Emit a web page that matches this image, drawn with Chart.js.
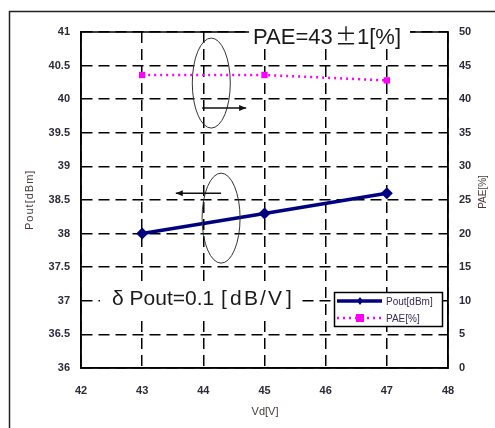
<!DOCTYPE html>
<html>
<head>
<meta charset="utf-8">
<script src="https://cdn.jsdelivr.net/npm/chart.js@4.4.1/dist/chart.umd.min.js"></script>
<style>
  html, body { margin: 0; padding: 0; background: #fff; }
  canvas { display: block; }
</style>
</head>
<body>
<canvas id="chart" width="495" height="428"></canvas>
<script>
// data
const vd = [43, 45, 47];
const pout = [38.0, 38.3, 38.6];
const pae = [43.6, 43.6, 42.8];

const xTicks = [42, 43, 44, 45, 46, 47, 48];
const poutTicks = [36, 36.5, 37, 37.5, 38, 38.5, 39, 39.5, 40, 40.5, 41];
const paeTicks = [0, 5, 10, 15, 20, 25, 30, 35, 40, 45, 50];

const FONT = '"Liberation Sans", Arial, sans-serif';
const CJK = '"Noto Sans CJK JP", sans-serif';
const TXT = '#2b2b3a';

function arrow(ctx, x1, y1, x2, y2) {
    ctx.beginPath();
    ctx.moveTo(x1, y1);
    ctx.lineTo(x2, y2);
    ctx.stroke();
    const dir = Math.sign(x2 - x1);
    ctx.beginPath();
    ctx.moveTo(x2, y2);
    ctx.lineTo(x2 - dir * 7, y2 - 3);
    ctx.lineTo(x2 - dir * 7, y2 + 3);
    ctx.closePath();
    ctx.fill();
}

// draw text char by char with extra spacing, returns end x
function spaced(ctx, str, x, y, gap) {
    for (const ch of str) {
        ctx.fillText(ch, x, y);
        x += ctx.measureText(ch).width + gap;
    }
    return x;
}

const extras = {
    id: 'extras',
    afterDraw(chart) {
        const ctx = chart.ctx;
        const a = chart.chartArea;
        const x = chart.scales.x, y = chart.scales.y;
        ctx.save();

        // outer frame
        ctx.strokeStyle = '#222';
        ctx.lineWidth = 1.5;
        ctx.strokeRect(9.5, 11.5, 500, 430);

        // plot frame
        ctx.strokeStyle = '#000';
        ctx.strokeRect(a.left, a.top, a.right - a.left, a.bottom - a.top);

        // ellipses
        ctx.lineWidth = 1;
        ctx.strokeStyle = '#333';
        ctx.beginPath();
        ctx.ellipse(x.getPixelForValue(44.13), y.getPixelForValue(40.24), 19, 45, 0, 0, Math.PI * 2);
        ctx.stroke();
        ctx.beginPath();
        ctx.ellipse(x.getPixelForValue(44.29), y.getPixelForValue(38.23), 19, 45, 0, 0, Math.PI * 2);
        ctx.stroke();

        // arrows
        ctx.lineWidth = 1.5;
        ctx.strokeStyle = '#111';
        ctx.fillStyle = '#111';
        arrow(ctx, x.getPixelForValue(43.98), y.getPixelForValue(39.87), x.getPixelForValue(44.7), y.getPixelForValue(39.87));
        arrow(ctx, x.getPixelForValue(44.29), y.getPixelForValue(38.6), x.getPixelForValue(43.55), y.getPixelForValue(38.6));

        // annotation texts
        ctx.fillStyle = '#fff';
        ctx.fillRect(249, 16, 161, 32);
        ctx.fillRect(100, 284, 197, 33);
        ctx.fillStyle = '#1a1a1a';
        ctx.textAlign = 'left';
        ctx.textBaseline = 'alphabetic';
        ctx.font = '22px ' + FONT;
        ctx.fillText('PAE=43', 253, 44);
        ctx.font = '22px ' + CJK;
        ctx.fillText('±', 335, 44);
        ctx.font = '22px ' + FONT;
        ctx.fillText('1[%]', 357, 44);
        ctx.font = '21px ' + FONT;
        ctx.fillText('δ Pout=0.1', 112, 305);
        ctx.fillText('[', 221, 305);
        spaced(ctx, 'dB/V', 230, 305, 2.2);
        ctx.fillText(']', 286, 305);

        // legend
        ctx.fillStyle = '#fff';
        ctx.fillRect(334, 292, 109, 35);
        ctx.strokeStyle = '#000';
        ctx.lineWidth = 1.5;
        ctx.strokeRect(334.5, 292.5, 108, 34);
        const ds = chart.data.datasets;
        ctx.lineWidth = 3.5;
        ctx.strokeStyle = ds[0].borderColor;
        ctx.beginPath(); ctx.moveTo(337, 301); ctx.lineTo(382, 301); ctx.stroke();
        ctx.fillStyle = ds[0].borderColor;
        ctx.beginPath();
        ctx.moveTo(360, 297); ctx.lineTo(363, 301); ctx.lineTo(360, 305); ctx.lineTo(357, 301);
        ctx.closePath(); ctx.fill();
        ctx.lineWidth = 2.5;
        ctx.strokeStyle = ds[1].borderColor;
        ctx.setLineDash([2, 4]);
        ctx.beginPath(); ctx.moveTo(337, 318); ctx.lineTo(382, 318); ctx.stroke();
        ctx.setLineDash([]);
        ctx.fillStyle = ds[1].borderColor;
        ctx.fillRect(356, 314, 8, 8);
        ctx.fillStyle = '#3a2a5a';
        ctx.font = '10px ' + FONT;
        ctx.textBaseline = 'middle';
        ctx.fillText(ds[0].label, 386, 302);
        ctx.fillText(ds[1].label, 386, 319);

        // axis titles
        ctx.fillStyle = '#4a3a3a';
        ctx.font = '11px ' + FONT;
        ctx.textAlign = 'center';
        ctx.fillText('Vd[V]', 265, 412);
        ctx.save();
        ctx.translate(30, 200);
        ctx.rotate(-Math.PI / 2);
        ctx.textAlign = 'left';
        spaced(ctx, 'Pout[dBm]', -30, 0, 1);
        ctx.restore();
        ctx.save();
        ctx.translate(483, 192);
        ctx.rotate(-Math.PI / 2);
        ctx.font = '10px ' + FONT;
        ctx.fillText('PAE[%]', 0, 0);
        ctx.restore();

        ctx.restore();
    }
};

const gridOpts = { color: '#000', lineWidth: 1.5, drawTicks: false };
const borderOpts = { display: true, color: '#000', width: 1.5, dash: [11, 6] };
const tickFont = { family: FONT, size: 11, weight: 'bold' };

new Chart(document.getElementById('chart').getContext('2d'), {
    type: 'line',
    data: {
        datasets: [{
            label: 'Pout[dBm]',
            data: vd.map((v, i) => ({ x: v, y: pout[i] })),
            yAxisID: 'y',
            borderColor: '#000080',
            backgroundColor: '#000080',
            borderWidth: 3.5,
            pointStyle: 'rectRot',
            pointRadius: 6,
            pointBorderWidth: 0,
        }, {
            label: 'PAE[%]',
            data: vd.map((v, i) => ({ x: v, y: pae[i] })),
            yAxisID: 'y1',
            borderColor: '#ff00ff',
            backgroundColor: '#ff00ff',
            borderWidth: 2.5,
            borderDash: [2, 4],
            pointStyle: 'rect',
            pointRadius: 4.5,
            pointBorderWidth: 0,
        }]
    },
    options: {
        responsive: false,
        animation: false,
        devicePixelRatio: 1,
        layout: { padding: { top: 32, left: 0, right: 0, bottom: 0 } },
        plugins: { legend: { display: false }, tooltip: { enabled: false } },
        scales: {
            x: {
                type: 'linear', min: 42, max: 48,
                afterBuildTicks: s => { s.ticks = xTicks.map(v => ({ value: v })); },
                afterFit: s => { s.height = 60; },
                grid: gridOpts, border: borderOpts,
                ticks: { padding: 16, color: TXT, font: tickFont, callback: v => String(v) },
            },
            y: {
                position: 'left', min: 36, max: 41,
                afterBuildTicks: s => { s.ticks = poutTicks.map(v => ({ value: v })); },
                afterFit: s => { s.width = 81; },
                grid: gridOpts, border: borderOpts,
                ticks: { padding: 11, color: TXT, font: tickFont, callback: v => String(v) },
            },
            y1: {
                position: 'right', min: 0, max: 50,
                afterBuildTicks: s => { s.ticks = paeTicks.map(v => ({ value: v })); },
                afterFit: s => { s.width = 47; },
                grid: { drawOnChartArea: false, drawTicks: false },
                border: { display: true, color: '#000', width: 1.5 },
                ticks: { padding: 11, color: TXT, font: tickFont, callback: v => String(v) },
            }
        }
    },
    plugins: [extras]
});
</script>
</body>
</html>
